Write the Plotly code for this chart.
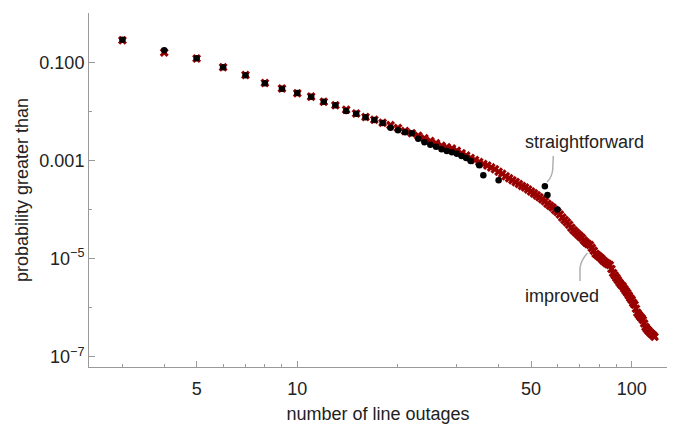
import plotly.graph_objects as go

# ---- data ----
straight_x = [3, 4, 5, 6, 7, 8, 9, 10, 11, 12, 13, 14, 15, 16, 17, 18, 19, 20,
              21, 22, 23, 24, 25, 26, 27, 28, 29, 30, 31, 32, 33, 35, 36, 40,
              55, 56, 60]
straight_p = [0.288, 0.175, 0.1205, 0.0791, 0.0543, 0.0373, 0.0290, 0.0237,
              0.0199, 0.0158, 0.0133, 0.0102, 0.00897, 0.00759, 0.00668,
              0.00581, 0.00466, 0.00412, 0.00375, 0.00358, 0.00278, 0.00235,
              0.00210, 0.00191, 0.00170, 0.00157, 0.00148, 0.00138, 0.00124,
              0.00112, 0.000977, 0.000798, 0.000500, 0.000395, 0.000299,
              0.000198, 0.000100]

improved_x = list(range(3, 118))
improved_p = [
    0.282, 0.158, 0.119, 0.0794, 0.0550, 0.0380, 0.0292, 0.0234, 0.0200, 0.0158,
    0.0133, 0.0108, 0.00902, 0.00767, 0.00676, 0.00589, 0.00525, 0.00457, 0.00398, 0.00359,
    0.00320, 0.00283, 0.00249, 0.00224, 0.00200, 0.00186, 0.00176, 0.00158, 0.00141, 0.00126,
    0.00112, 0.00102, 0.000933, 0.000851, 0.000794, 0.000724, 0.000661, 0.000589, 0.000537, 0.000479,
    0.000437, 0.000398, 0.000363, 0.000331, 0.000302, 0.000282, 0.000257, 0.000234, 0.000214, 0.000195,
    0.000178, 0.000162, 0.000148, 0.000132, 0.000120, 0.000110, 9.77e-5, 8.91e-5, 7.94e-5, 6.92e-5,
    6.17e-5, 5.50e-5, 4.90e-5, 4.27e-5, 3.80e-5, 3.47e-5, 3.16e-5, 2.88e-5, 2.63e-5, 2.34e-5,
    2.14e-5, 2.00e-5, 1.91e-5, 1.66e-5, 1.45e-5, 1.26e-5, 1.17e-5, 1.10e-5, 1.02e-5, 9.33e-6,
    8.71e-6, 8.13e-6, 7.76e-6, 7.41e-6, 6.17e-6, 5.13e-6, 4.57e-6, 4.07e-6, 3.63e-6, 3.24e-6,
    2.95e-6, 2.75e-6, 2.45e-6, 2.19e-6, 2.00e-6, 1.78e-6, 1.58e-6, 1.45e-6, 1.26e-6, 1.15e-6,
    9.55e-7, 7.94e-7, 7.24e-7, 6.61e-7, 6.17e-7, 5.62e-7, 4.79e-7, 4.07e-7, 3.72e-7, 3.47e-7,
    3.24e-7, 3.02e-7, 2.88e-7, 2.75e-7, 2.57e-7,
]

x_tickvals = [5, 10, 50, 100]
x_ticktext = ["5", "10", "50", "100"]
x_minor = [3, 4, 6, 7, 8, 9, 20, 30, 40, 60, 70, 80, 90]
y_tickvals = [0.1, 0.001, 1e-5, 1e-7]
y_ticktext = ["0.100", "0.001", "10<sup>\u22125</sup>", "10<sup>\u22127</sup>"]
y_minor = [1, 0.01, 1e-4, 1e-6]

FONT = "Liberation Sans, Arial, sans-serif"
AXIS_GRAY = "#9a9a9a"
TXT = "#222222"
FS = 18

fig = go.Figure()
fig.add_trace(go.Scatter(
    x=improved_x, y=improved_p, mode="markers", name="improved",
    marker=dict(symbol="x", size=8, color="#990000", line=dict(width=0)),
))
fig.add_trace(go.Scatter(
    x=straight_x, y=straight_p, mode="markers", name="straightforward",
    marker=dict(symbol="circle", size=6.5, color="#000000", line=dict(width=0)),
))

W, H = 680, 424
L, R, T, B = 89, 13, 13, 57
pw, ph = W - L - R, H - T - B


def px(xp):
    return (xp - L) / pw


def py(yp):
    return (H - B - yp) / ph


fig.update_layout(
    width=W, height=H,
    margin=dict(l=L, r=R, t=T, b=B, autoexpand=False),
    paper_bgcolor="white", plot_bgcolor="white",
    showlegend=False,
    font=dict(family=FONT, size=FS, color=TXT),
    xaxis=dict(
        type="log", range=[0.3771, 2.1056], automargin=False,
        showgrid=False, zeroline=False,
        showline=True, linecolor=AXIS_GRAY, linewidth=1,
        ticks="inside", ticklen=6, tickcolor=AXIS_GRAY, tickwidth=1,
        tickmode="array", tickvals=x_tickvals, ticktext=x_ticktext,
        tickfont=dict(family=FONT, size=FS, color=TXT),
        ticklabelstandoff=5,
        minor=dict(tickmode="array", tickvals=x_minor, ticks="inside",
                   ticklen=3, tickcolor=AXIS_GRAY, tickwidth=1, showgrid=False),
        title=dict(text="number of line outages",
                   font=dict(family=FONT, size=FS, color=TXT), standoff=14),
    ),
    yaxis=dict(
        type="log", range=[-7.2057, 0.0041], automargin=False,
        showgrid=False, zeroline=False,
        showline=True, linecolor=AXIS_GRAY, linewidth=1,
        ticks="inside", ticklen=6, tickcolor=AXIS_GRAY, tickwidth=1,
        tickmode="array", tickvals=y_tickvals, ticktext=y_ticktext,
        tickfont=dict(family=FONT, size=FS, color=TXT),
        minor=dict(tickmode="array", tickvals=y_minor, ticks="inside",
                   ticklen=3, tickcolor=AXIS_GRAY, tickwidth=1, showgrid=False),
        title=dict(text="probability greater than",
                   font=dict(family=FONT, size=FS, color=TXT), standoff=6),
    ),
)

fig.add_annotation(text="straightforward", xref="paper", yref="paper",
                   x=px(584.5), y=py(142), xanchor="center", yanchor="middle",
                   showarrow=False, font=dict(family=FONT, size=FS, color=TXT))
fig.add_annotation(text="improved", xref="paper", yref="paper",
                   x=px(562), y=py(296), xanchor="center", yanchor="middle",
                   showarrow=False, font=dict(family=FONT, size=FS, color=TXT))

path1 = (f"M {px(553.3)},{py(156)} L {px(552.7)},{py(170)} "
         f"Q {px(551.5)},{py(178)} {px(547)},{py(182)}")
path2 = (f"M {px(580)},{py(281)} L {px(580)},{py(268)} "
         f"Q {px(581)},{py(260)} {px(587.5)},{py(253)}")
for p in (path1, path2):
    fig.add_shape(type="path", path=p, xref="paper", yref="paper",
                  line=dict(color="#b0b0b0", width=1.5))

fig.write_html("out.html")
